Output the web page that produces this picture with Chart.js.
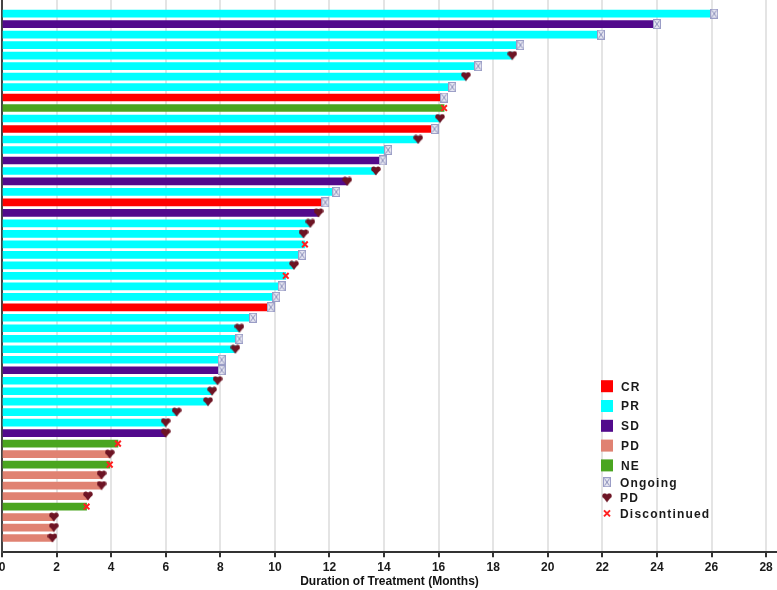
<!DOCTYPE html>
<html>
<head>
<meta charset="utf-8">
<title>Duration of Treatment</title>
<script src="https://cdn.jsdelivr.net/npm/chart.js@4.4.1/dist/chart.umd.min.js"></script>
<style>
  html, body { margin: 0; padding: 0; background: #fff; overflow: hidden; }
  #wrap { position: relative; width: 777px; height: 590px; }
</style>
</head>
<body>
<div id="wrap"><canvas id="swimmer"></canvas></div>
<script>
/* swimmer plot — one row per patient, longest on top */

const durations = [
  26.1, 24.0, 21.95, 19.0, 18.7, 17.45, 17.0, 16.5, 16.2, 16.2,
  16.05, 15.85, 15.25, 14.15, 13.95, 13.7, 12.65, 12.25, 11.85, 11.6,
  11.3, 11.05, 11.1, 11.0, 10.7, 10.4, 10.25, 10.05, 9.85, 9.2,
  8.7, 8.7, 8.55, 8.05, 8.05, 7.9, 7.7, 7.55, 6.4, 6.0,
  6.0, 4.25, 3.95, 3.95, 3.65, 3.65, 3.15, 3.1, 1.9, 1.9,
  1.85
];
const responses = [
  'PR', 'SD', 'PR', 'PR', 'PR', 'PR', 'PR', 'PR', 'CR', 'NE',
  'PR', 'CR', 'PR', 'PR', 'SD', 'PR', 'SD', 'PR', 'CR', 'SD',
  'PR', 'PR', 'PR', 'PR', 'PR', 'PR', 'PR', 'PR', 'CR', 'PR',
  'PR', 'PR', 'PR', 'PR', 'SD', 'PR', 'PR', 'PR', 'PR', 'PR',
  'SD', 'NE', 'PD', 'NE', 'PD', 'PD', 'PD', 'NE', 'PD', 'PD',
  'PD'
];
const endEvents = [
  'ongoing', 'ongoing', 'ongoing', 'ongoing', 'pd', 'ongoing', 'pd', 'ongoing', 'ongoing', 'disc',
  'pd', 'ongoing', 'pd', 'ongoing', 'ongoing', 'pd', 'pd', 'ongoing', 'ongoing', 'pd',
  'pd', 'pd', 'disc', 'ongoing', 'pd', 'disc', 'ongoing', 'ongoing', 'ongoing', 'ongoing',
  'pd', 'ongoing', 'pd', 'ongoing', 'ongoing', 'pd', 'pd', 'pd', 'pd', 'pd',
  'pd', 'disc', 'pd', 'disc', 'pd', 'pd', 'pd', 'disc', 'pd', 'pd',
  'pd'
];

const responseTypes = ['CR', 'PR', 'SD', 'PD', 'NE'];
const eventTypes = ['ongoing', 'pd', 'disc'];
const eventLabels = { ongoing: 'Ongoing', pd: 'PD', disc: 'Discontinued' };
const xTicks = [0, 2, 4, 6, 8, 10, 12, 14, 16, 18, 20, 22, 24, 26, 28];
const xTitle = 'Duration of Treatment (Months)';

const responseColors = {
  CR: '#ff0000',
  PR: '#00ffff',
  SD: '#520a8c',
  PD: '#e08272',
  NE: '#4aa520',
};

// little marker pictures used as point styles
function ongoingIcon() {
  const c = document.createElement('canvas');
  c.width = 8; c.height = 10;
  const g = c.getContext('2d');
  g.fillStyle = '#e6e6f1';
  g.fillRect(0.5, 0.5, 7, 9);
  g.strokeStyle = '#9a9dc6';
  g.lineWidth = 1;
  g.strokeRect(0.5, 0.5, 7, 9);
  g.beginPath();
  g.moveTo(1.5, 1.5); g.lineTo(6.5, 8.5);
  g.moveTo(6.5, 1.5); g.lineTo(1.5, 8.5);
  g.strokeStyle = '#8c90bb';
  g.stroke();
  return c;
}

function pdIcon() {
  const c = document.createElement('canvas');
  c.width = 10; c.height = 10;
  const g = c.getContext('2d');
  g.fillStyle = '#6d1424';
  g.beginPath();
  g.arc(2.8, 3, 2.5, 0, Math.PI * 2);
  g.arc(7.2, 3, 2.5, 0, Math.PI * 2);
  g.fill();
  g.beginPath();
  g.moveTo(0.4, 3.6); g.lineTo(9.6, 3.6); g.lineTo(5, 9.4);
  g.closePath();
  g.fill();
  return c;
}

const markerStyles = {
  ongoing: { pointStyle: ongoingIcon() },
  pd: { pointStyle: pdIcon() },
  disc: { pointStyle: 'crossRot', pointRadius: 4, borderColor: '#ff2020', pointBorderWidth: 2 },
};

const markerSets = eventTypes.map(ev => ({
  type: 'scatter',
  label: eventLabels[ev],
  data: durations.map((d, i) => ({ x: d, y: i })).filter((p, i) => endEvents[i] === ev),
  pointRadius: 4,
  ...markerStyles[ev],
}));

// legend drawn inside the plot, lower right
const swimLegend = {
  id: 'swimLegend',
  afterDraw(chart) {
    const { ctx, chartArea } = chart;
    const x0 = chartArea.right - 176;
    const y0 = chartArea.bottom - 166;
    ctx.save();
    ctx.font = 'bold 12px "Liberation Sans", Arial, sans-serif';
    ctx.letterSpacing = '1.2px';
    ctx.textBaseline = 'middle';
    ctx.fillStyle = '#1a1a1a';

    responseTypes.forEach((r, i) => {
      const y = y0 + i * 19.8;
      ctx.fillStyle = responseColors[r];
      ctx.fillRect(x0, y - 6, 12, 12);
      ctx.fillStyle = '#1a1a1a';
      ctx.fillText(r, x0 + 20, y + 1);
    });

    eventTypes.forEach((ev, i) => {
      const y = y0 + 96 + i * 15.6;
      const st = markerStyles[ev];
      if (ev === 'disc') {
        ctx.strokeStyle = st.borderColor;
        ctx.lineWidth = 2;
        ctx.beginPath();
        ctx.moveTo(x0 + 3, y - 3); ctx.lineTo(x0 + 9, y + 3);
        ctx.moveTo(x0 + 9, y - 3); ctx.lineTo(x0 + 3, y + 3);
        ctx.stroke();
      } else {
        const img = st.pointStyle;
        ctx.drawImage(img, x0 + 6 - img.width / 2, y - img.height / 2);
      }
      ctx.fillStyle = '#1a1a1a';
      ctx.fillText(eventLabels[ev], x0 + 19, y + 1);
    });
    ctx.restore();
  }
};

const noPad = scale => {
  scale.paddingLeft = 0; scale.paddingRight = 0;
  scale.paddingTop = 0; scale.paddingBottom = 0;
};

new Chart(document.getElementById('swimmer'), {
  type: 'bar',
  data: {
    datasets: [
      {
        label: 'Best response',
        data: durations.map((d, i) => ({ x: d, y: i })),
        backgroundColor: responses.map(r => responseColors[r]),
        borderWidth: 0,
        barThickness: 7,
        order: 2,
      },
      ...markerSets.map(s => ({ ...s, order: 1 })),
    ],
  },
  options: {
    indexAxis: 'y',
    responsive: true,
    maintainAspectRatio: false,
    animation: false,
    layout: { autoPadding: false, padding: { left: 2, right: 0, top: 0, bottom: 0 } },
    plugins: {
      legend: { display: false },
      tooltip: { enabled: false },
    },
    scales: {
      x: {
        type: 'linear',
        min: 0,
        max: 28.4,
        offset: false,
        afterBuildTicks: scale => { scale.ticks = xTicks.map(v => ({ value: v })); },
        afterFit: noPad,
        grid: {
          color: '#e4e4e4',
          lineWidth: 2,
          tickColor: '#333',
          tickLength: 5,
          tickWidth: 2,
        },
        border: { color: '#333', width: 2 },
        ticks: {
          color: '#1a1a1a',
          padding: 3,
          maxRotation: 0,
          font: { family: '"Liberation Sans", Arial, sans-serif', size: 12, weight: 'bold' },
        },
        title: {
          display: true,
          text: xTitle,
          color: '#111',
          padding: { top: -3, bottom: 1 },
          font: { family: '"Liberation Sans", Arial, sans-serif', size: 12, weight: 'bold' },
        },
      },
      y: {
        type: 'linear',
        reverse: true,
        offset: false,
        min: -1.3,
        max: 51.35,
        afterFit: noPad,
        ticks: { display: false },
        grid: { display: false, drawTicks: false, offset: false },
        border: { color: '#444', width: 2 },
      },
    },
  },
  plugins: [swimLegend],
});
</script>
</body>
</html>
